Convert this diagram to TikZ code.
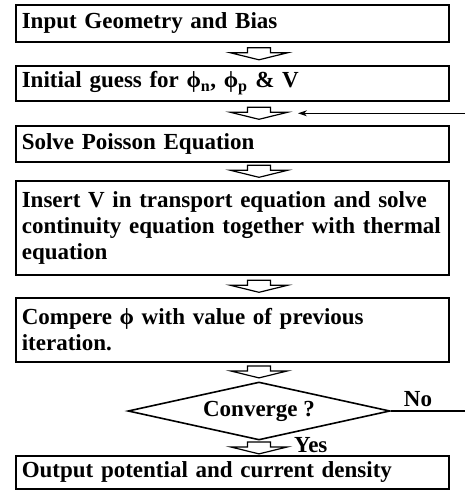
\documentclass[tikz,border=0pt]{standalone}
\usepackage{fontspec}
\setmainfont{Liberation Serif}
\usetikzlibrary{arrows.meta,positioning,calc,shapes.geometric}
\newcommand{\flowfont}{\fontsize{23}{26}\selectfont\bfseries}
\tikzset{
  stepbox/.style={draw, line width=1.6pt, anchor=north west, text width=421pt, align=left,
               inner xsep=6pt, inner ysep=0pt, minimum height=#1, font=\flowfont},
  stepbox/.default=36pt,
  test/.style={diamond, draw, line width=1.6pt, minimum width=262pt, minimum height=58pt,
               aspect=4.5, inner sep=0pt, font=\flowfont},
  lbl/.style={font=\flowfont, inner sep=0pt},
  blockarrow/.style={draw, fill=white, line width=1.2pt, line join=miter},
  noline/.style={line width=1.6pt},
  backflow/.style={line width=0.9pt, -{Stealth[length=9pt,width=6pt]}},
}
\def\xL{15}
\def\xA{259}
\newcommand{\flowarrow}[2]{%
  \path ($(#1.south)!0.5!(#2.north)$) coordinate (mid);
  \draw[blockarrow, shift={(\xA,0 |- mid)}] (-11.5,-6) -- (11.5,-6) -- (11.5,-1) -- (28.5,-1)
    -- (0,6) -- (-28.5,-1) -- (-11.5,-1) -- cycle;}

\begin{document}
\begin{tikzpicture}[x=1pt, y=-1pt]
  \useasboundingbox (0,0) rectangle (465,495);
  \node[stepbox=37pt] (geom) at (\xL,4) {Input Geometry and Bias};
  \node[stepbox=35pt] (guess) at (\xL,65) {Initial guess for ϕ\textsubscript{n}, ϕ\textsubscript{p} \& V};
  \node[stepbox=36pt] (poisson) at (\xL,125) {Solve Poisson Equation};
  \node[stepbox=94pt] (transport) at (\xL,180) {Insert V in transport equation and solve\\
    continuity equation together with thermal\\equation};
  \node[stepbox=64pt] (compare) at (\xL,297) {Compere ϕ with value of previous\\iteration.};
  \node[test] (test) at (\xA,411) {Converge ?};
  \node[stepbox=33pt] (output) at (\xL,455) {Output potential and current density};
  \flowarrow{geom}{guess}
  \flowarrow{guess}{poisson}
  \flowarrow{poisson}{transport}
  \flowarrow{transport}{compare}
  \flowarrow{compare}{test}
  \flowarrow{test}{output}
  \node[lbl] (no) at (418,399) {No};
  \node[lbl, anchor=west] (yes) at (294,445) {Yes};
  % loop back when not converged
  \path ($(guess.south)!0.5!(poisson.north)$) coordinate (back);
  \draw[noline] (test.east) -- (470,0 |- test.east) coordinate (turn);
  \draw[backflow] (turn) |- (298,0 |- back);
\end{tikzpicture}
\end{document}
